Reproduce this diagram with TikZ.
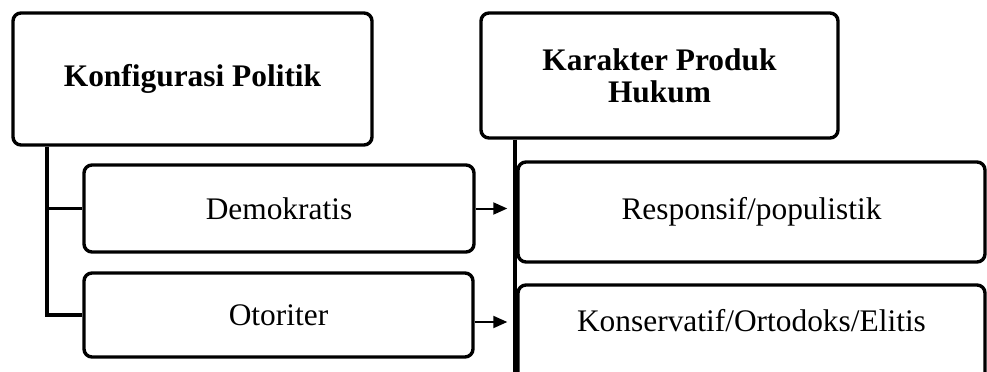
\documentclass[tikz,border=0pt]{standalone}
\usepackage{fontspec}
\setmainfont{Liberation Serif}
\usetikzlibrary{arrows.meta}

\begin{document}
\begin{tikzpicture}[x=0.5pt,y=-0.5pt,
  box/.style={draw,line width=1.7pt,rounded corners=4pt,align=center,
    font=\fontsize{15.7}{16}\selectfont},
  head/.style={box,font=\fontsize{15.7}{16}\selectfont\bfseries},
  conn/.style={line width=1.9pt},
  arr/.style={line width=1pt,-{Triangle[length=7pt,width=6pt]},shorten >=4pt}]
\clip (0,0) rectangle (987,371);
\node[head,minimum width=179.5pt,minimum height=66pt] (konfig) at (192.5,79) {Konfigurasi Politik};
\node[head,minimum width=178.5pt,minimum height=62.5pt] (karakter) at (659.5,75.5) {Karakter Produk\\Hukum};
\node[box,minimum width=195pt,minimum height=43.5pt] (demo) at (279,208.5) {Demokratis};
\node[box,minimum width=194.5pt,minimum height=42pt] (otor) at (278.5,315) {Otoriter};
\node[box,minimum width=233.5pt,minimum height=50pt] (resp) at (751.5,212) {Responsif/populistik};
\node[box,minimum width=233.5pt,minimum height=52.5pt,text height=11pt,text depth=17pt] (kons) at (751.5,337.5) {Konservatif/Ortodoks/Elitis};
% left branch
\coordinate (ltrunk) at ([xshift=18pt]konfig.south west);
\draw[conn] (ltrunk) |- (otor.west);
\draw[conn] (ltrunk |- demo.west) -- (demo.west);
% right branch
\coordinate (rtrunk) at ([xshift=18pt]karakter.south west);
\draw[conn] (rtrunk) -- (rtrunk |- kons.south);
\draw[arr] (demo.east) -- (demo.east -| rtrunk);
\draw[arr] ([yshift=-3.5pt]otor.east) -- ([yshift=-3.5pt]otor.east -| rtrunk);
\end{tikzpicture}
\end{document}
